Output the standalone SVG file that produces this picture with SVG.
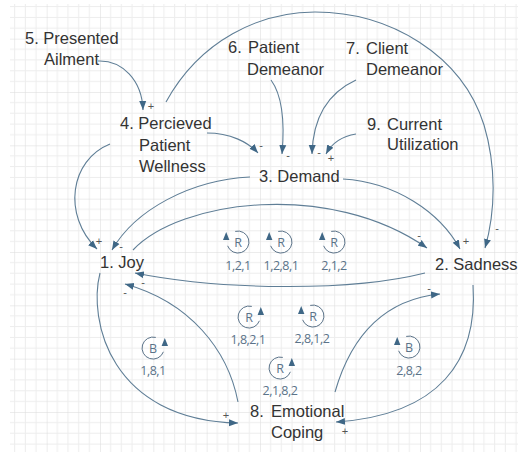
<svg xmlns="http://www.w3.org/2000/svg" xmlns:xlink="http://www.w3.org/1999/xlink" width="518" height="454" viewBox="0 0 518 454">
<style>
.node{font-family:"Liberation Sans",Arial,sans-serif;font-size:16.5px;fill:#333333}
.pol{font-family:"Liberation Sans",Arial,sans-serif;font-size:11px;fill:#555;text-anchor:middle}
.edge{fill:none;stroke:#5f7e96;stroke-width:1.1;marker-end:url(#ah)}
.loop{fill:none;stroke:#5b7389;stroke-width:1}
.lt{font-family:"Open Sans","Liberation Sans",sans-serif;font-size:12.5px;fill:#5b7389;text-anchor:middle}
.ll{font-family:"Open Sans","Liberation Sans",sans-serif;font-size:12.5px;fill:#5b7389;text-anchor:middle;letter-spacing:-0.5px}
</style>
<defs>
<pattern id="grid" patternUnits="userSpaceOnUse" x="-6.667" y="-14.667" width="53.333" height="53.333">
<path d="M10.667,0V53.333M21.333,0V53.333M32,0V53.333M42.667,0V53.333M0,10.667H53.333M0,21.333H53.333M0,32H53.333M0,42.667H53.333" stroke="#ededed" stroke-width="1" fill="none"/>
<path d="M0,0V53.333M0,0H53.333" stroke="#dadada" stroke-width="1" fill="none"/>
</pattern>
<marker id="ah" markerUnits="userSpaceOnUse" markerWidth="10" markerHeight="8" refX="9" refY="4" orient="auto">
<path d="M0,0.5 L9,4 L0,7.5 z" fill="#3f6786"/>
</marker>
<g id="loopL">
<path class="loop" d="M-2.8,-10.6 A11,11 0 1 1 -10.4,3.8"/>
<path d="M-11.8,-10 L-15,-2 L-8.6,-2 z" fill="#3f6786"/>
</g>
<g id="loopR">
<path class="loop" d="M2.8,-10.6 A11,11 0 1 0 10.4,3.8"/>
<path d="M11.8,-10 L15,-2 L8.6,-2 z" fill="#3f6786"/>
</g>
</defs>
<rect width="518" height="454" fill="#ffffff"/>
<rect x="10" y="4" width="508" height="448" fill="url(#grid)"/>

<g id="connectors">
<path class="edge" d="M98,61 C122,60 142,80 143,110"/>
<path class="edge" d="M207,133 C230,133 248,142 258,153"/>
<path class="edge" d="M271,80 C282,95 285,120 282,154"/>
<path class="edge" d="M356,80 C330,92 313,115 312,154"/>
<path class="edge" d="M356,134 C343,136 332,143 326,154"/>
<path class="edge" d="M166,102 C200,40 260,12 315,12 C390,12 462,55 484,125 C496,165 496,210 485,248"/>
<path class="edge" d="M343,179 C395,182 440,212 460,249"/>
<path class="edge" d="M110,144 C70,160 62,215 97,249"/>
<path class="edge" d="M250,177 C190,180 135,210 112,250"/>
<path class="edge" d="M133,250 C180,200 330,180 427,248"/>
<path class="edge" d="M425,273 C350,292 220,290 135,273"/>
<path class="edge" d="M238,402 C228,350 190,302 125,284"/>
<path class="edge" d="M100,273 C88,320 110,420 238,423"/>
<path class="edge" d="M335,392 C350,340 380,300 440,294"/>
<path class="edge" d="M473,285 C478,360 440,415 336,422"/>
<g id="polarities">
<text class="pol" x="151" y="110">+</text>
<text class="pol" x="261" y="149">-</text>
<text class="pol" x="288" y="159">-</text>
<text class="pol" x="319" y="156">-</text>
<text class="pol" x="331" y="162">+</text>
<text class="pol" x="497" y="232">-</text>
<text class="pol" x="466" y="245">+</text>
<text class="pol" x="99" y="245">+</text>
<text class="pol" x="121" y="250">-</text>
<text class="pol" x="419" y="239">-</text>
<text class="pol" x="143" y="286">-</text>
<text class="pol" x="125" y="296">-</text>
<text class="pol" x="226" y="419">+</text>
<text class="pol" x="429" y="292">-</text>
<text class="pol" x="345" y="435">+</text>
</g>
</g>

<g id="n5"><text class="node" x="25" y="44">5. Presented</text><text class="node" x="44" y="65">Ailment</text></g>
<g id="n4"><text class="node" x="120" y="129">4. Percieved</text><text class="node" x="139" y="151">Patient</text><text class="node" x="139" y="172">Wellness</text></g>
<g id="n6"><text class="node" y="53"><tspan x="228">6.</tspan><tspan x="248">Patient</tspan></text><text class="node" x="247" y="75">Demeanor</text></g>
<g id="n7"><text class="node" y="54"><tspan x="346">7.</tspan><tspan x="366">Client</tspan></text><text class="node" x="366" y="75">Demeanor</text></g>
<g id="n9"><text class="node" y="130"><tspan x="367">9.</tspan><tspan x="387">Current</tspan></text><text class="node" x="387" y="150">Utilization</text></g>
<g id="n3"><text class="node" x="259" y="182">3. Demand</text></g>
<g id="n1"><text class="node" x="100" y="268">1. Joy</text></g>
<g id="n2"><text class="node" x="435" y="270">2. Sadness</text></g>
<g id="n8"><text class="node" y="417"><tspan x="250">8.</tspan><tspan x="271">Emotional</tspan></text><text class="node" x="271" y="438">Coping</text></g>

<g id="loop-121"><use xlink:href="#loopL" x="238" y="242"/><text class="lt" x="238" y="246.5">R</text><text class="ll" x="238" y="270">1,2,1</text></g>
<g id="loop-1281"><use xlink:href="#loopL" x="281" y="242"/><text class="lt" x="281" y="246.5">R</text><text class="ll" x="281" y="270">1,2,8,1</text></g>
<g id="loop-212"><use xlink:href="#loopL" x="334" y="242"/><text class="lt" x="334" y="246.5">R</text><text class="ll" x="334" y="270">2,1,2</text></g>
<g id="loop-1821"><use xlink:href="#loopR" x="249" y="317"/><text class="lt" x="249" y="321.5">R</text><text class="ll" x="248" y="344">1,8,2,1</text></g>
<g id="loop-2812"><use xlink:href="#loopL" x="313" y="316"/><text class="lt" x="313" y="320.5">R</text><text class="ll" x="312" y="343">2,8,1,2</text></g>
<g id="loop-2182"><use xlink:href="#loopR" x="280" y="368"/><text class="lt" x="280" y="372.5">R</text><text class="ll" x="280" y="395">2,1,8,2</text></g>
<g id="loop-181"><use xlink:href="#loopR" x="153" y="348"/><text class="lt" x="153" y="352.5">B</text><text class="ll" x="153" y="375">1,8,1</text></g>
<g id="loop-282"><use xlink:href="#loopL" x="409" y="347"/><text class="lt" x="409" y="351.5">B</text><text class="ll" x="409" y="375">2,8,2</text></g>
</svg>
